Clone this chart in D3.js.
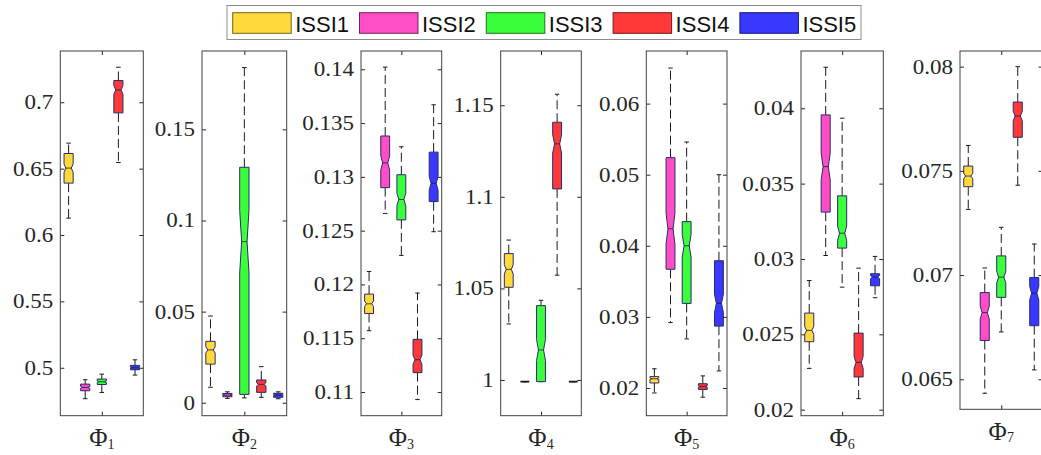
<!DOCTYPE html>
<html>
<head>
<meta charset="utf-8">
<script src="https://cdn.jsdelivr.net/npm/d3@7"></script>
<style>
  body { margin: 0; background: #fff; }
  svg { display: block; }
</style>
</head>
<body>
<svg id="chart" width="1041" height="455"></svg>
<script>
// Series (one box per series in every panel)
const seriesNames = ["ISSI1", "ISSI2", "ISSI3", "ISSI4", "ISSI5"];
const seriesColors = ["#ffda3a", "#ff4dc6", "#3cff3c", "#ff3838", "#3838ff"];

// Feature subscripts for the x labels  Φ1 … Φ7
const featureIndex = ["1", "2", "3", "4", "5", "6", "7"];

// Box statistics per feature, one row per series:
// [lower whisker, Q1, median, Q3, upper whisker]
const phi1 = [
  [0.6127, 0.6391, 0.6504, 0.6614, 0.6692],
  [0.4767, 0.4827, 0.4852, 0.4877, 0.4910],
  [0.4814, 0.4874, 0.4895, 0.4915, 0.4952],
  [0.6546, 0.6920, 0.7093, 0.7164, 0.7264],
  [0.4945, 0.4985, 0.5000, 0.5018, 0.5060]
];
const phi2 = [
  [0.0085, 0.0212, 0.0290, 0.0337, 0.0476],
  [0.0024, 0.0033, 0.0042, 0.0051, 0.0060],
  [0.0027, 0.0046, 0.0884, 0.1292, 0.1839],
  [0.0030, 0.0057, 0.0101, 0.0125, 0.0198],
  [0.0022, 0.0030, 0.0042, 0.0052, 0.0060]
];
const phi3 = [
  [0.1157, 0.1173, 0.1182, 0.1191, 0.1212],
  [0.1266, 0.1290, 0.1313, 0.1338, 0.1402],
  [0.1227, 0.1260, 0.1279, 0.1302, 0.1328],
  [0.1093, 0.1118, 0.1130, 0.1149, 0.1192],
  [0.1249, 0.1277, 0.1294, 0.1323, 0.1367]
];
const phi4 = [
  [1.0306, 1.0506, 1.0604, 1.0690, 1.0764],
  [0.9991, 0.9991, 0.9991, 0.9991, 0.9991],
  [0.9991, 0.9991, 1.0164, 1.0406, 1.0435],
  [1.0572, 1.1043, 1.1289, 1.1407, 1.1560],
  [0.9991, 0.9991, 0.9991, 0.9991, 0.9991]
];
const phi5 = [
  [0.0193, 0.0207, 0.0213, 0.0216, 0.0227],
  [0.0292, 0.0367, 0.0424, 0.0524, 0.0650],
  [0.0269, 0.0319, 0.0400, 0.0434, 0.0546],
  [0.0187, 0.0198, 0.0202, 0.0206, 0.0217],
  [0.0224, 0.0287, 0.0319, 0.0379, 0.0500]
];
const phi6 = [
  [0.02274, 0.02451, 0.02526, 0.02641, 0.02857],
  [0.03023, 0.03311, 0.03613, 0.03956, 0.04272],
  [0.02813, 0.03072, 0.03171, 0.03419, 0.03934],
  [0.02073, 0.02217, 0.02314, 0.02508, 0.02939],
  [0.02743, 0.02822, 0.02880, 0.02902, 0.03017]
];
const phi7 = [
  [0.07315, 0.07424, 0.07475, 0.07523, 0.07622],
  [0.06433, 0.06686, 0.06820, 0.06916, 0.07034],
  [0.06727, 0.06893, 0.06990, 0.07092, 0.07229],
  [0.07431, 0.07661, 0.07763, 0.07830, 0.08000],
  [0.06545, 0.06757, 0.06913, 0.06988, 0.07149]
];

// Y-axis tick labels per feature
const phi1Ticks = [0.5, 0.55, 0.6, 0.65, 0.7];
const phi2Ticks = [0, 0.05, 0.1, 0.15];
const phi3Ticks = [0.11, 0.115, 0.12, 0.125, 0.13, 0.135, 0.14];
const phi4Ticks = [1, 1.05, 1.1, 1.15];
const phi5Ticks = [0.02, 0.03, 0.04, 0.05, 0.06];
const phi6Ticks = [0.02, 0.025, 0.03, 0.035, 0.04];
const phi7Ticks = [0.065, 0.07, 0.075, 0.08];

// Y-axis limits per feature
const phi1Limits = [0.4639, 0.7386];
const phi2Limits = [-0.0071, 0.193];
const phi3Limits = [0.1078, 0.1417];
const phi4Limits = [0.9805, 1.1796];
const phi5Limits = [0.0161, 0.0674];
const phi6Limits = [0.0196, 0.0438];
const phi7Limits = [0.06356, 0.08075];

// Samples per box, used for the notch half-height (1.57·IQR/√n)
const sampleSize = 130;

// ---------- layout ----------
const panelFrames = [
  [60.3, 143.3, 51, 415.7],
  [202, 286.7, 51, 415.7],
  [361, 441.7, 51, 415.7],
  [500.7, 581.3, 51, 415.7],
  [646.3, 727, 51, 415.7],
  [801, 883.3, 51, 415.7],
  [960, 1042.5, 51, 409.3]
];
const panels = [
  { stats: phi1, ticks: phi1Ticks, limits: phi1Limits },
  { stats: phi2, ticks: phi2Ticks, limits: phi2Limits },
  { stats: phi3, ticks: phi3Ticks, limits: phi3Limits },
  { stats: phi4, ticks: phi4Ticks, limits: phi4Limits },
  { stats: phi5, ticks: phi5Ticks, limits: phi5Limits },
  { stats: phi6, ticks: phi6Ticks, limits: phi6Limits },
  { stats: phi7, ticks: phi7Ticks, limits: phi7Limits }
];

const axisColor = "#262626";
const boxEdge = "#2a2a6e";
const whiskerColor = "#1a1a1a";
const boxWidth = 0.55;      // in category units
const notchDepth = 0.58;    // width fraction kept at the median
const tickFont = "'Liberation Serif', 'Times New Roman', serif";

const svg = d3.select("#chart");

panels.forEach((p, i) => {
  const [x0, x1, y0, y1] = panelFrames[i];
  const x = d3.scaleLinear().domain([0.5, 5.5]).range([x0, x1]);
  const y = d3.scaleLinear().domain(p.limits).range([y1, y0]);
  const g = svg.append("g");

  // clip so nothing spills past the axes box
  const clipId = "clip" + i;
  svg.append("clipPath").attr("id", clipId)
    .append("rect").attr("x", x0).attr("y", y0)
    .attr("width", x1 - x0).attr("height", y1 - y0);

  const plot = g.append("g").attr("clip-path", `url(#${clipId})`);

  p.stats.forEach((s, k) => {
    const [wLo, q1, med, q3, wHi] = s;
    const cx = x(k + 1);
    const hw = (x(1 + boxWidth) - x(1)) / 2;
    const capHw = hw / 2;
    const iqr = q3 - q1;
    const notch = 1.57 * iqr / Math.sqrt(sampleSize);
    const nHi = med + notch, nLo = med - notch;
    const inner = hw * notchDepth;

    // whiskers
    [[q3, wHi], [q1, wLo]].forEach(([a, b]) => {
      plot.append("line")
        .attr("x1", cx).attr("x2", cx)
        .attr("y1", y(a)).attr("y2", y(b))
        .attr("stroke", whiskerColor).attr("stroke-width", 1)
        .attr("stroke-dasharray", "9,4");
      plot.append("line")
        .attr("x1", cx - capHw).attr("x2", cx + capHw)
        .attr("y1", y(b)).attr("y2", y(b))
        .attr("stroke", whiskerColor).attr("stroke-width", 1);
    });

    // notched box
    const path = d3.path();
    path.moveTo(cx - hw, y(q3));
    path.lineTo(cx + hw, y(q3));
    path.lineTo(cx + hw, y(nHi));
    path.lineTo(cx + inner, y(med));
    path.lineTo(cx + hw, y(nLo));
    path.lineTo(cx + hw, y(q1));
    path.lineTo(cx - hw, y(q1));
    path.lineTo(cx - hw, y(nLo));
    path.lineTo(cx - inner, y(med));
    path.lineTo(cx - hw, y(nHi));
    path.closePath();
    plot.append("path")
      .attr("d", path.toString())
      .attr("fill", seriesColors[k])
      .attr("stroke", iqr === 0 ? "#111" : boxEdge)
      .attr("stroke-width", iqr === 0 ? 1.8 : 1);

    // median
    plot.append("line")
      .attr("x1", cx - inner).attr("x2", cx + inner)
      .attr("y1", y(med)).attr("y2", y(med))
      .attr("stroke", "#1a1a3a").attr("stroke-width", 0.8);
  });

  // axes: inward ticks on both sides, labels on the left
  const left = d3.axisLeft(y).tickValues(p.ticks)
    .tickFormat(d => String(d))
    .tickSizeInner(-4).tickSizeOuter(0).tickPadding(7);
  const la = g.append("g").attr("transform", `translate(${x0},0)`).call(left);
  la.select(".domain").remove();
  la.selectAll("line").attr("stroke", axisColor);
  la.selectAll("text")
    .attr("fill", axisColor)
    .style("font-family", tickFont)
    .style("font-size", "20px")
    .each(function () {
      const w = this.getComputedTextLength();
      this.setAttribute("textLength", (w * 1.15).toFixed(2));
      this.setAttribute("lengthAdjust", "spacingAndGlyphs");
    });

  const right = d3.axisRight(y).tickValues(p.ticks)
    .tickFormat("").tickSizeInner(-4).tickSizeOuter(0);
  const ra = g.append("g").attr("transform", `translate(${x1},0)`).call(right);
  ra.select(".domain").remove();
  ra.selectAll("line").attr("stroke", axisColor);

  // single centre tick on top and bottom
  const bottom = d3.axisBottom(x).tickValues([3]).tickFormat("")
    .tickSizeInner(-4).tickSizeOuter(0);
  const ba = g.append("g").attr("transform", `translate(0,${y1})`).call(bottom);
  ba.select(".domain").remove();
  ba.selectAll("line").attr("stroke", axisColor);
  const top = d3.axisTop(x).tickValues([3]).tickFormat("")
    .tickSizeInner(-4).tickSizeOuter(0);
  const ta = g.append("g").attr("transform", `translate(0,${y0})`).call(top);
  ta.select(".domain").remove();
  ta.selectAll("line").attr("stroke", axisColor);

  // axes box
  g.append("rect")
    .attr("x", x0).attr("y", y0)
    .attr("width", x1 - x0).attr("height", y1 - y0)
    .attr("fill", "none").attr("stroke", "#404040").attr("stroke-width", 1);

  // x label Φ_i
  const lbl = g.append("text")
    .attr("x", x(3)).attr("y", y1 + 30.5)
    .attr("text-anchor", "middle")
    .attr("fill", axisColor)
    .style("font-family", tickFont);
  lbl.append("tspan").style("font-size", "25px").text("Φ");
  lbl.append("tspan").style("font-size", "14px").attr("dy", 2.5).text(featureIndex[i]);
});

// ---------- legend ----------
const legend = svg.append("g");
legend.append("rect")
  .attr("x", 227).attr("y", 5.5).attr("width", 634).attr("height", 34)
  .attr("fill", "#fff").attr("stroke", "#8c8c8c").attr("stroke-width", 1);
const legendStep = 126.8;
seriesNames.forEach((name, k) => {
  const lx = 232.7 + k * legendStep;
  legend.append("rect")
    .attr("x", lx).attr("y", 12.7).attr("width", 58.5).attr("height", 20.6)
    .attr("fill", seriesColors[k])
    .attr("stroke", d3.color(seriesColors[k]).darker(2.2))
    .attr("stroke-width", 1);
  legend.append("text")
    .attr("x", lx + 62.5).attr("y", 31.6)
    .attr("fill", "#111")
    .style("font-family", "'Liberation Sans', Arial, sans-serif")
    .style("font-size", "22px")
    .text(name);
});
</script>
</body>
</html>
